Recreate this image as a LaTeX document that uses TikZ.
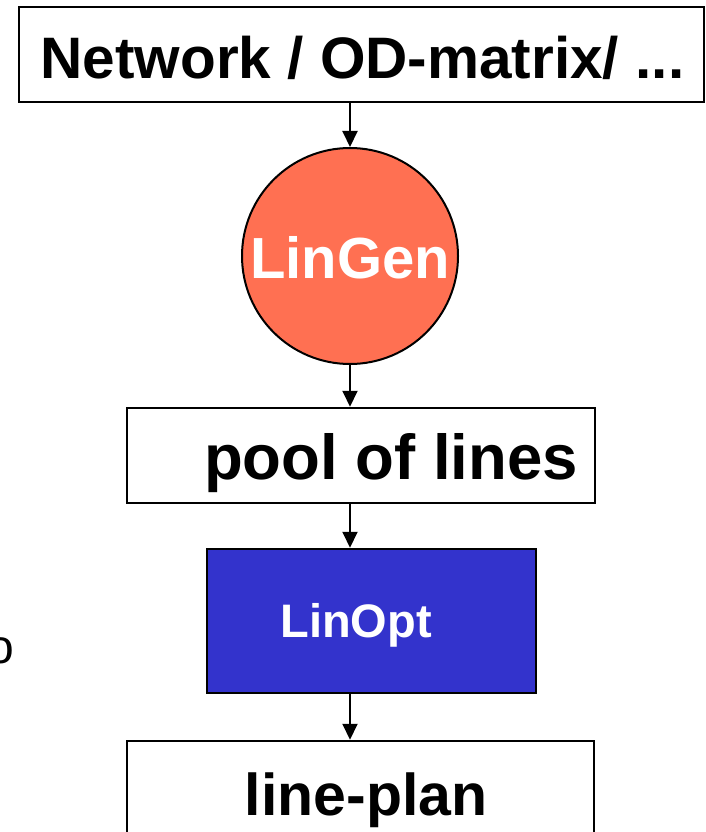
\documentclass[tikz,border=0pt]{standalone}
\usepackage{fontspec}
\setmainfont{Liberation Sans}
\usetikzlibrary{arrows.meta}
\definecolor{gencol}{HTML}{FF7052}
\definecolor{optcol}{HTML}{3333CC}
\tikzset{
  box/.style={draw=black, line width=2.5pt, fill=white, rectangle, inner sep=0pt},
  lbl/.style={anchor=base, inner sep=0pt, font=\bfseries\fontsize{#1}{#1}\selectfont},
  flow/.style={line width=2pt, -{Triangle[length=16pt,width=15pt]}},
}
\begin{document}
\begin{tikzpicture}[x=1pt, y=-1pt]
\useasboundingbox (0,0) rectangle (706,832);
% boxes and the generator circle
\node[box, minimum width=685pt, minimum height=95pt] (net) at (361.5,54.5) {};
\node[circle, draw=black, line width=2pt, fill=gencol, minimum size=216pt, inner sep=0pt] (gen) at (350,256) {};
\node[box, minimum width=468pt, minimum height=95pt] (pool) at (361,455.5) {};
\node[box, fill=optcol, minimum width=329pt, minimum height=144pt] (opt) at (371.5,621) {};
\node[box, minimum width=467pt, minimum height=130pt] (plan) at (360.5,806) {};
% labels
\node[lbl=58.5] (tnet) at (362.5,79) {Network / OD-matrix/ ...};
\node[lbl=58, text=white] (tgen) at (350,278) {LinGen};
\node[lbl=63.5] (tpool) at (391,479) {pool of lines};
\node[lbl=47, text=white] (topt) at (356,637) {LinOpt};
\node[lbl=59] (tplan) at (366,815) {line-plan};
\node[anchor=base east, inner sep=0pt, font=\fontsize{48}{48}\selectfont] (frag) at (14,663) {o};
% flow arrows
\draw[flow] (net.south -| gen.center) -- (gen.north);
\draw[flow] (gen.south) -- (pool.north -| gen.center);
\draw[flow] (pool.south -| gen.center) -- (opt.north -| gen.center);
\draw[flow] (opt.south -| gen.center) -- (plan.north -| gen.center);
\end{tikzpicture}
\end{document}
